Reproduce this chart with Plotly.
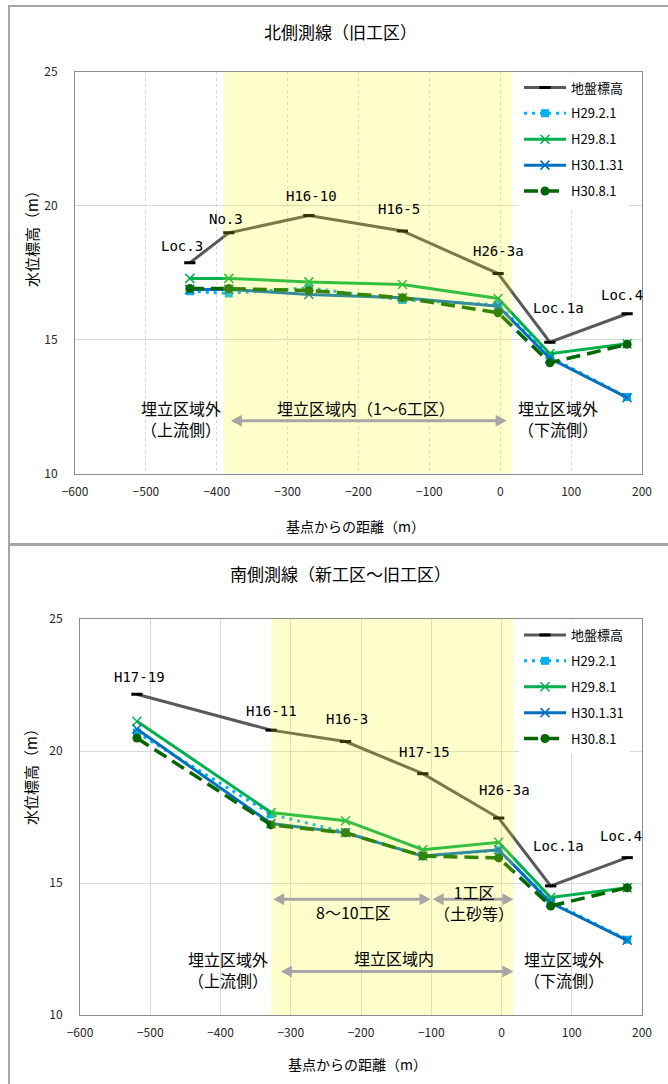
import plotly.graph_objects as go

# --- data ------------------------------------------------------------------
series_names = ['地盤標高', 'H29.2.1', 'H29.8.1', 'H30.1.31', 'H30.8.1']

# 北側測線（旧工区）
north_x = [-438, -383, -270, -138, -3, 70, 179]
north_labels = ['Loc.3', 'No.3', 'H16-10', 'H16-5', 'H26-3a', 'Loc.1a', 'Loc.4']
north_ground = [17.86, 18.98, 19.63, 19.05, 17.46, 14.90, 15.96]
north_h29_2 = [16.80, 16.72, 16.93, 16.47, 16.30, 14.35, 12.85]
north_h29_8 = [17.28, 17.28, 17.15, 17.05, 16.53, 14.47, 14.84]
north_h30_1 = [16.87, 16.87, 16.68, 16.56, 16.24, 14.30, 12.83]
north_h30_8 = [16.90, 16.90, 16.83, 16.56, 16.00, 14.13, 14.82]

# 南側測線（新工区～旧工区）
south_x = [-519, -328, -222, -112, -4, 70, 179]
south_labels = ['H17-19', 'H16-11', 'H16-3', 'H17-15', 'H26-3a', 'Loc.1a', 'Loc.4']
south_ground = [22.15, 20.79, 20.36, 19.14, 17.46, 14.89, 15.96]
south_h29_2 = [20.70, 17.60, 16.92, 16.02, 16.24, 14.30, 12.85]
south_h29_8 = [21.13, 17.67, 17.36, 16.26, 16.54, 14.45, 14.82]
south_h30_1 = [20.83, 17.25, 16.90, 16.02, 16.26, 14.25, 12.83]
south_h30_8 = [20.49, 17.20, 16.90, 16.02, 15.95, 14.13, 14.82]

x_ticks = [-600, -500, -400, -300, -200, -100, 0, 100, 200]
y_ticks = [10, 15, 20, 25]

# --- styling ---------------------------------------------------------------
FONT = 'Noto Sans CJK JP'
MONO = 'DejaVu Sans Mono'
W, H = 668, 1084
ARROW = '#A6A6A6'
styles = [
    dict(line=dict(color='#595959', width=3),
         marker=dict(symbol='line-ew', size=8, color='black', line=dict(width=3, color='black'))),
    dict(line=dict(color='#00B0F0', width=3, dash='3px,5px'),
         marker=dict(symbol='square', size=8, color='#00B0F0')),
    dict(line=dict(color='#00B050', width=3),
         marker=dict(symbol='x-thin', size=9, color='#00B050', line=dict(width=1.5, color='#00B050'))),
    dict(line=dict(color='#0070C0', width=3),
         marker=dict(symbol='x-thin', size=9, color='#0070C0', line=dict(width=1.5, color='#0070C0'))),
    dict(line=dict(color='#006600', width=3.5, dash='14px,7px'),
         marker=dict(symbol='circle', size=9, color='#006600')),
]


def px_x(p):
    return p / W


def px_y(p):
    return 1 - p / H


fig = go.Figure()

panels = [
    dict(ax='', title='北側測線（旧工区）', x=north_x, labels=north_labels,
         ys=[north_ground, north_h29_2, north_h29_8, north_h30_1, north_h30_8],
         dom_x=(75, 642), dom_y=(71.5, 473.5), yellow=(-391, 16), vgrid='dot',
         label_off=[(-8, 17), (-3, 14), (3, 19), (-3, 22), (0, 23), (9, 34), (-5, 19)],
         title_y=31, xtitle_y=526, ytitle_y=235, legend='legend', box=(6, 544)),
    dict(ax='2', title='南側測線（新工区～旧工区）', x=south_x, labels=south_labels,
         ys=[south_ground, south_h29_2, south_h29_8, south_h30_1, south_h30_8],
         dom_x=(80, 642), dom_y=(619, 1015), yellow=(-328, 17), vgrid='solid',
         label_off=[(3, 17), (0, 19), (1, 23), (2, 22), (6, 28), (8, 40), (-6, 22)],
         title_y=573, xtitle_y=1064, ytitle_y=773, legend='legend2', box=(545, H + 20)),
]


def paper_text(x, y, text, size, angle=0):
    fig.add_annotation(x=px_x(x), y=px_y(y), xref='paper', yref='paper', text=text,
                       showarrow=False, xanchor='center', yanchor='middle', textangle=angle,
                       font=dict(family=FONT, size=size, color='black'))


for p in panels:
    xr, yr = 'x' + p['ax'], 'y' + p['ax']
    for name, ys, st in zip(series_names, p['ys'], styles):
        fig.add_trace(go.Scatter(
            x=p['x'], y=ys, name=name, mode='lines+markers',
            xaxis=xr, yaxis=yr, legend=p['legend'], legendgroup=p['legend'] + name,
            **st,
        ))

    axis_common = dict(showline=True, mirror=True, linecolor='#8C8C8C', linewidth=1,
                       ticks='', zeroline=False, automargin=False,
                       tickfont=dict(family=FONT, size=12, color='#262626'))
    fig.update_layout(**{
        'xaxis' + p['ax']: dict(
            domain=[px_x(p['dom_x'][0]), px_x(p['dom_x'][1])], anchor=yr,
            range=[-600, 200], tickvals=x_ticks, ticklabelstandoff=7,
            showgrid=True, gridcolor='#D9D9D9', gridwidth=1, griddash=p['vgrid'],
            **axis_common),
        'yaxis' + p['ax']: dict(
            domain=[px_y(p['dom_y'][1]), px_y(p['dom_y'][0])], anchor=xr,
            range=[10, 25], tickvals=y_ticks, ticklabelstandoff=14,
            showgrid=True, gridcolor='#D9D9D9', gridwidth=1,
            **axis_common),
        p['legend']: dict(
            x=px_x(519), y=px_y(p['dom_y'][0] + 1), xanchor='left', yanchor='top',
            bgcolor='white', borderwidth=0, tracegroupgap=6,
            font=dict(family=FONT, size=13, color='black'), itemwidth=42),
    })

    # shaded landfill zone, drawn over the lines like the original
    fig.add_shape(type='rect', xref=xr, yref=yr, x0=p['yellow'][0], x1=p['yellow'][1],
                  y0=10, y1=25, fillcolor='rgba(255,255,0,0.2)', line_width=0, layer='above')

    # chart frame
    fig.add_shape(type='rect', xref='paper', yref='paper', x0=px_x(9), x1=px_x(W + 10),
                  y0=px_y(p['box'][1]), y1=px_y(p['box'][0]),
                  line=dict(color='#A6A6A6', width=2), fillcolor='rgba(0,0,0,0)', layer='below')

    # point names above the ground line
    for xv, yv, lab, (dx, dy) in zip(p['x'], p['ys'][0], p['labels'], p['label_off']):
        fig.add_annotation(x=xv, y=yv, xref=xr, yref=yr, text=lab, showarrow=False,
                           xshift=dx, yshift=dy, font=dict(family=MONO, size=14, color='black'))

    # titles
    cx = (p['dom_x'][0] + p['dom_x'][1]) / 2
    paper_text(340, p['title_y'], p['title'], 17)
    paper_text(cx - 3, p['xtitle_y'], '基点からの距離（m）', 14)
    paper_text(31, p['ytitle_y'], '水位標高（m）', 15, angle=-90)


def arrow(x0, x1, y, panel):
    # double-headed grey arrow: a shaft plus two pixel-sized triangle heads
    xr, yr = 'x' + panel['ax'], 'y' + panel['ax']
    ppu = (panel['dom_x'][1] - panel['dom_x'][0]) / 800
    inset = 7 / ppu
    fig.add_shape(type='line', xref=xr, yref=yr, x0=x0 + inset, x1=x1 - inset, y0=y, y1=y,
                  line=dict(color=ARROW, width=3), layer='above')
    for xa, d in ((x0, 1), (x1, -1)):
        fig.add_shape(type='path', xref=xr, yref=yr, xsizemode='pixel', ysizemode='pixel',
                      xanchor=xa, yanchor=y, path=f'M0,0 L{11 * d},6 L{11 * d},-6 Z',
                      fillcolor=ARROW, line_width=0, layer='above')


def label(x, y, text, ax_id, size=16):
    fig.add_annotation(x=x, y=y, xref='x' + ax_id, yref='y' + ax_id, text=text,
                       showarrow=False, font=dict(family=FONT, size=size, color='black'))


north, south = panels

# north zone notes
arrow(-380, 9, 11.97, north)
label(-451, 12.06, '埋立区域外<br>（上流側）', '')
label(-190, 12.46, '埋立区域内（1～6工区）', '')
label(81, 12.06, '埋立区域外<br>（下流側）', '')

# south zone notes
arrow(-325, -101, 14.38, south)
arrow(-98, 17, 14.38, south)
arrow(-314, 17, 11.65, south)
label(-211, 13.92, '8～10工区', '2')
label(-39, 14.28, '1工区<br>（土砂等）', '2')
label(-390, 11.74, '埋立区域外<br>（上流側）', '2')
label(-153, 12.15, '埋立区域内', '2')
label(89, 11.74, '埋立区域外<br>（下流側）', '2')

fig.update_layout(
    width=W, height=H, margin=dict(l=0, r=0, t=0, b=0, autoexpand=False),
    paper_bgcolor='white', plot_bgcolor='white',
    font=dict(family=FONT),
)

# the page body has a default 8px margin; drop it so the figure sits at 0,0
fig.write_html('out.html', config={'displayModeBar': False},
               post_script="document.body.style.margin='0';")
